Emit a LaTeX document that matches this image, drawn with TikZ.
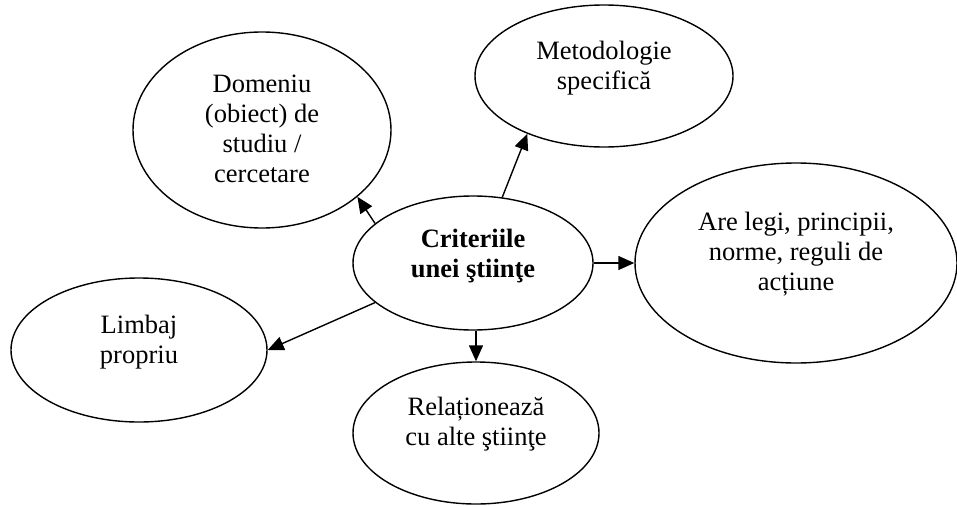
\documentclass[tikz,border=0pt]{standalone}
\usepackage{fontspec}
\setmainfont{Liberation Serif}
\usetikzlibrary{shapes.geometric,arrows.meta}
\tikzset{
  bubble/.style={draw, ellipse, line width=1.4pt, inner sep=0pt},
  label text/.style={align=center, inner sep=0pt, font=\fontsize{26.5}{30}\selectfont},
  link/.style={line width=1.4pt, -{Triangle[length=16pt,width=14pt]}}
}
\begin{document}
\begin{tikzpicture}[x=1pt,y=-1pt]
\useasboundingbox (0,0) rectangle (957,506);

% ellipses
\node[bubble, minimum width=240pt, minimum height=134pt] (crit) at (473,263) {};
\node[bubble, minimum width=258pt, minimum height=196pt] (dom)  at (262,130) {};
\node[bubble, minimum width=258pt, minimum height=142pt] (met)  at (604,76)  {};
\node[bubble, minimum width=322pt, minimum height=200pt] (are)  at (796,263) {};
\node[bubble, minimum width=256pt, minimum height=144pt] (lim)  at (139,350) {};
\node[bubble, minimum width=246pt, minimum height=142pt] (rel)  at (476,433) {};

% texts
\node[label text, font=\fontsize{26.5}{30}\selectfont\bfseries] (critT) at ([yshift=7pt]crit.center) {Criteriile\\unei ştiinţe};
\node[label text] (domT) at ([yshift=1pt]dom.center) {Domeniu\\(obiect) de\\studiu /\\cercetare};
\node[label text] (metT) at ([yshift=8pt]met.center) {Metodologie\\specifică};
\node[label text] (areT) at ([yshift=8.5pt]are.center) {Are legi, principii,\\norme, reguli de\\acțiune};
\node[label text] (limT) at ([yshift=8pt]lim.center) {Limbaj\\propriu};
\node[label text] (relT) at ([yshift=9pt]rel.center) {Relaționează\\cu alte ştiinţe};

% connectors
\draw[link] (crit.158) -- (dom.-35);
\draw[link] (crit.66) -- (met.-143.5);
\draw[link] (crit.east) -- (are.west);
\draw[link] (crit.202) -- (lim.east);
\draw[link] (rel.north |- crit.south) -- (rel.north);
\end{tikzpicture}
\end{document}
